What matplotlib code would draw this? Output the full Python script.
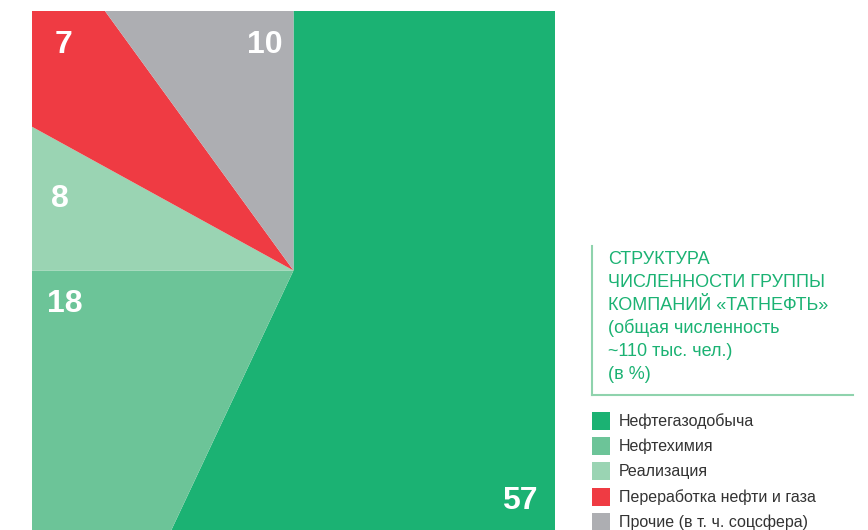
import matplotlib
matplotlib.use("Agg")
import matplotlib.pyplot as plt
from matplotlib.patches import Rectangle

# data
categories = ["Нефтегазодобыча", "Нефтехимия", "Реализация",
              "Переработка нефти и газа", "Прочие (в т. ч. соцсфера)"]
shares = [57, 18, 8, 7, 10]
colors = ["#1bb273", "#6cc498", "#9ad4b3", "#ef3b43", "#adaeb2"]
title_lines = ["СТРУКТУРА", "ЧИСЛЕННОСТИ ГРУППЫ", "КОМПАНИЙ «ТАТНЕФТЬ»",
               "(общая численность", "~110 тыс. чел.)", "(в %)"]

plt.rcParams['font.family'] = ['Liberation Sans', 'DejaVu Sans']

W, H = 868, 530
fig = plt.figure(figsize=(W / 100, H / 100), dpi=100)


def fx(px):
    return px / W


def fy(py):
    return 1 - py / H


# square "pie": a big pie clipped by the axes box
ax = fig.add_axes([fx(32), fy(530), fx(555) - fx(32), fy(11) - fy(530)])
wedges, _ = ax.pie(shares, colors=colors, startangle=90, counterclock=False,
                   radius=1.6, wedgeprops=dict(linewidth=0))
ax.set_aspect('auto')
ax.set_xlim(-1, 1)
ax.set_ylim(-519 / 523, 519 / 523)
ax.axis('off')
for w in wedges:
    w.set_clip_on(True)
    w.set_clip_path(ax.patch)

# value labels (pixel positions: label centre x, baseline y)
label_pos = [(520, 509), (65, 312), (60, 207), (64, 53), (265, 53)]
for val, (px, py) in zip(shares, label_pos):
    fig.text(fx(px), fy(py), str(val), color="white", fontsize=23,
             fontweight="bold", ha="center", va="baseline")

# title block
green = "#1bb273"
for i, line in enumerate(title_lines):
    fig.text(fx(608), fy(264 + 23 * i), line, color=green, fontsize=13,
             ha="left", va="baseline")
fig.add_artist(plt.Line2D([fx(592), fx(592)], [fy(246), fy(395)],
                          color="#8fd3ad", lw=1.5))
fig.add_artist(plt.Line2D([fx(592), fx(853)], [fy(395), fy(395)],
                          color="#8fd3ad", lw=1.5))

# legend
for i, (cat, col) in enumerate(zip(categories, colors)):
    cy = 421 + 25.2 * i
    fig.add_artist(Rectangle((fx(592), fy(cy + 9)), fx(18), 18 / H,
                             color=col, lw=0, transform=fig.transFigure))
    fig.text(fx(619), fy(cy), cat, color="#333333", fontsize=11.5,
             ha="left", va="center")

fig.savefig("out.png", dpi=100)
